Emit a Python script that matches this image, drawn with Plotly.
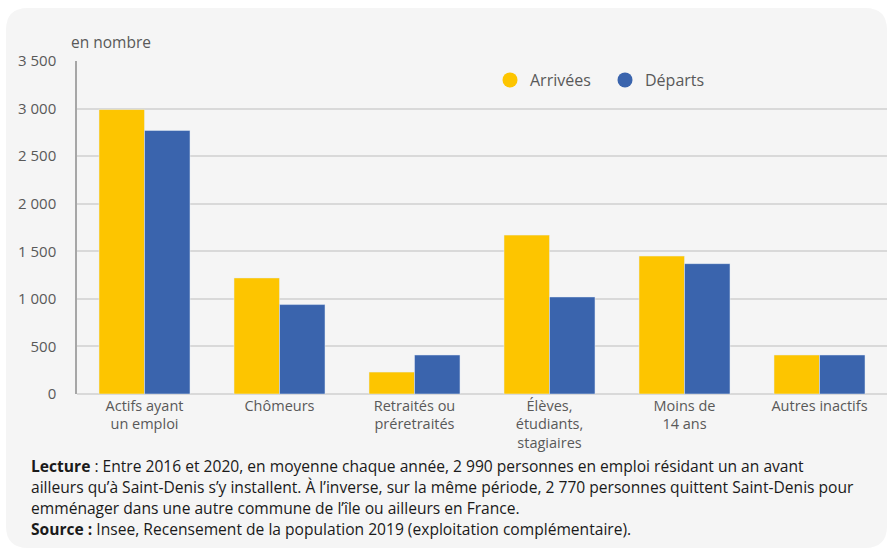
import plotly.graph_objects as go

categories = ["Actifs ayant<br>un emploi", "Chômeurs", "Retraités ou<br>préretraités",
              "Élèves,<br>étudiants,<br>stagiaires", "Moins de<br>14 ans", "Autres inactifs"]
arrivees = [2990, 1220, 230, 1670, 1450, 410]
departs = [2770, 940, 410, 1020, 1370, 410]
y_ticks = [0, 500, 1000, 1500, 2000, 2500, 3000, 3500]
y_ticktext = ["0", "500", "1 000", "1 500", "2 000", "2 500", "3 000", "3 500"]

YELLOW = "#FDC500"
BLUE = "#3A64AD"
GREY_TXT = "#595959"
W, H = 887, 551
ML, MT, MB, MR = 77, 61, 157, 0
PW, PH = W - ML - MR, H - MT - MB

def px_x(p):
    return (p - ML) / PW

def px_y(p):
    return (H - MB - p) / PH

fig = go.Figure()
fig.add_trace(go.Bar(x=categories, y=arrivees, marker_color=YELLOW, showlegend=False, name="Arrivées"))
fig.add_trace(go.Bar(x=categories, y=departs, marker_color=BLUE, showlegend=False, name="Départs"))
fig.add_trace(go.Scatter(x=[None], y=[None], mode="markers", name="Arrivées",
                         marker=dict(color=YELLOW, size=15, symbol="circle")))
fig.add_trace(go.Scatter(x=[None], y=[None], mode="markers", name="Départs",
                         marker=dict(color=BLUE, size=15, symbol="circle")))

# rounded light-grey panel
x0, y0, x1, y1, r = 6, 8, 887, 548, 22
def P(a, b):
    return f"{px_x(a):.5f},{px_y(b):.5f}"
path = (f"M {P(x0 + r, y0)} L {P(x1 - r, y0)} Q {P(x1, y0)} {P(x1, y0 + r)} "
        f"L {P(x1, y1 - r)} Q {P(x1, y1)} {P(x1 - r, y1)} "
        f"L {P(x0 + r, y1)} Q {P(x0, y1)} {P(x0, y1 - r)} "
        f"L {P(x0, y0 + r)} Q {P(x0, y0)} {P(x0 + r, y0)} Z")
fig.add_shape(type="path", path=path, xref="paper", yref="paper",
              fillcolor="#F5F5F5", line=dict(width=0), layer="below")

fig.add_annotation(text="en nombre", xref="paper", yref="paper", x=px_x(69), y=px_y(42),
                   xanchor="left", yanchor="middle", showarrow=False,
                   font=dict(size=15.5, color=GREY_TXT))

notes = [
    "<b>Lecture</b> : Entre 2016 et 2020, en moyenne chaque année, 2 990 personnes en emploi résidant un an avant",
    "ailleurs qu’à Saint-Denis s’y installent. À l’inverse, sur la même période, 2 770 personnes quittent Saint-Denis pour",
    "emménager dans une autre commune de l’île ou ailleurs en France.",
    "<b>Source :</b> Insee, Recensement de la population 2019 (exploitation complémentaire).",
]
for i, line in enumerate(notes):
    fig.add_annotation(text=line, xref="paper", yref="paper", x=px_x(29), y=px_y(466 + 21 * i),
                       xanchor="left", yanchor="middle", showarrow=False,
                       font=dict(size=15.6, color="#1A1A1A"))

fig.update_layout(
    width=W, height=H,
    margin=dict(l=ML, r=MR, t=MT, b=MB, pad=0),
    paper_bgcolor="white", plot_bgcolor="rgba(0,0,0,0)",
    font=dict(family="Open Sans, sans-serif", size=14, color=GREY_TXT),
    barmode="group", bargap=0.326, bargroupgap=0,
    legend=dict(orientation="h", x=px_x(490), y=px_y(80), xanchor="left", yanchor="middle",
                bgcolor="rgba(0,0,0,0)", font=dict(size=16, color=GREY_TXT),
                itemwidth=30, entrywidth=70, entrywidthmode="pixels"),
    xaxis=dict(showgrid=False, showline=False, ticks="", ticklabelstandoff=1,
               tickfont=dict(size=14.5, color=GREY_TXT),
               range=[-0.5, 5.5], fixedrange=True),
    yaxis=dict(range=[0, 3500], tickvals=y_ticks, ticktext=y_ticktext,
               showgrid=True, gridcolor="#D9D9D9", gridwidth=1.5,
               zeroline=True, zerolinecolor="#D9D9D9", zerolinewidth=1.5,
               showline=True, linecolor="#A6A6A6", linewidth=1.5,
               ticks="", ticklabelstandoff=16, tickfont=dict(size=15, color=GREY_TXT)),
)

fig.write_html("out.html")
